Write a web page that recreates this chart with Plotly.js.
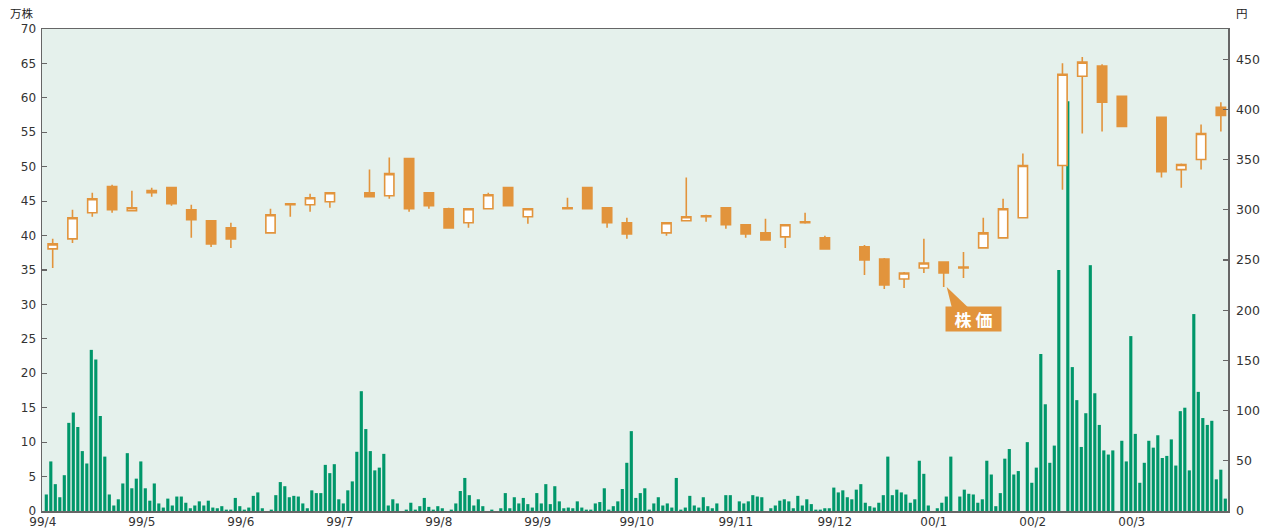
<!DOCTYPE html>
<html><head><meta charset="utf-8">
<script src="https://cdn.plot.ly/plotly-3.0.1.min.js"></script>
<style>html,body{margin:0;padding:0;background:#fff}#chart{width:1268px;height:528px}</style>
</head><body><div id="chart"></div>
<script>
// Month tick labels (x axis)
const monthLabels = ['99/4','99/5','99/6','99/7','99/8','99/9','99/10','99/11','99/12','00/1','00/2','00/3'];

// Daily volume (万株), one value per trading slot, grouped by month
const vol_9904 = [2.4,7.2,3.9,2.0,5.2,12.8,14.3,12.2,8.7,6.9,23.4,22.0,13.8,7.9,2.4,0.8,1.7,4.0,8.4,3.3,4.7];
const vol_9905 = [7.2,3.3,1.5,4.0,1.1,0.5,1.8,0.8,2.1,2.1,1.2,0.4,0.8,1.4,0.8,1.5,0.5,0.4,0.7,0.2,0.2,1.9];
const vol_9906 = [0.7,0.2,0.5,2.2,2.7,0.4,0,0.2,2.3,4.2,3.6,2.0,2.2,2.1,1.1,0.4,3.0,2.6,2.6,6.7,5.5,6.8];
const vol_9907 = [1.7,1.1,3.0,4.3,8.6,17.4,11.9,8.7,5.9,6.3,8.3,0.8,1.7,1.1,0,0.2,1.2,0.2,0.7,1.9,0.6,0.2];
const vol_9908 = [0.7,0.4,0,0.2,1.1,2.9,4.8,2.3,0.8,1.7,0.7,0,0.2,0,0.4,2.6,0.4,2.0,1.1,1.9,1.0,0.5];
const vol_9909 = [2.6,1.1,3.9,1.0,3.6,1.4,0.4,0.5,0.4,1.4,0.5,0.2,0.2,1.1,1.3,3.3,0.2,0.7,1.4,3.2,7.0,11.6];
const vol_9910 = [1.9,2.6,3.3,0.2,1.1,2.0,0.8,1.1,0.5,4.8,0.2,0.5,2.2,0.8,0.5,2.0,0.7,0.4,1.1,0,2.3];
const vol_9911 = [2.3,0,1.4,1.1,1.4,2.3,2.1,2.0,0,0.4,0.8,1.5,1.7,1.4,0.4,2.2,0.8,1.7,1.0,0.2,0.2,0.4];
const vol_9912 = [0.4,3.4,2.7,3.0,2.0,1.7,3.1,3.9,1.2,0.7,0.5,1.2,2.3,7.9,2.3,3.1,2.7,2.4,1.2,1.7,7.3,5.4,0.8];
const vol_0001 = [0,0.4,1.2,2.1,7.9,0,2.1,3.1,2.5,2.4,1.2,1.7,7.3,5.3,0.7,2.6,7.6,9.0,5.3,5.8,0];
const vol_0002 = [10.0,4.1,6.3,22.8,15.5,7.0,9.5,35.0,0,59.5,20.9,16.1,9.3,14.2,35.7,17.1,12.5,8.8,8.2,8.8,0];
const vol_0003 = [10.2,7.2,25.4,11.2,4.1,7.0,10.2,9.2,11.0,7.7,8.0,10.4,6.6,14.5,15.0,5.9,28.6,17.3,13.5,12.5,13.1,4.6,6.0,1.8];

// Weekly candles (円). Slot = week position (5 slots per month)
const candleSlot = [0,1,2,3,4,5,6,7,8,9,11,12,13,14,16,17,18,19,20,21,22,23,24,26,27,28,29,31,32,33,34,35,36,37,38,39,41,42,43,44,45,46,47,48,49,51,52,53,54,56,57,58,59];
const priceOpen  = [261,271,297,323,299,319,322,300,289,282,277,306,305,308,317,314,351,317,301,287,301,322,293,302,322,302,287,277,289,294,302,285,277,273,288,272,263,251,231,242,248,242,262,272,292,344,433,443,413,392,340,350,402];
const priceHigh  = [271,300,317,325,319,322,322,305,289,287,301,306,316,317,340,352,351,317,302,301,317,322,301,312,322,302,292,287,332,295,302,285,291,285,297,274,265,252,238,271,248,258,292,311,356,446,452,445,413,392,346,385,407];
const priceLow   = [242,267,293,297,299,313,304,272,263,262,277,293,298,302,313,311,298,301,281,282,301,304,286,301,301,282,271,274,289,288,281,272,270,262,286,261,235,221,222,237,223,232,262,272,292,320,376,378,383,332,322,340,378];
const priceClose = [266,292,311,300,302,317,306,290,266,271,295,305,312,317,313,336,301,304,282,301,315,304,301,301,301,287,276,287,293,293,285,276,270,285,287,261,250,225,237,247,237,243,277,301,344,435,447,407,383,338,345,376,394];

const ORANGE = '#e2943c';
const GREEN = '#00976a';
const AXIS = '#666666';

const volAll = [].concat(vol_9904, vol_9905, vol_9906, vol_9907, vol_9908, vol_9909,
                         vol_9910, vol_9911, vol_9912, vol_0001, vol_0002, vol_0003);
const volX = volAll.map((_, i) => i);

const traces = [
  {
    type: 'bar', x: volX, y: volAll, xaxis: 'x', yaxis: 'y',
    marker: {color: GREEN, line: {width: 0}}, width: 0.7, hoverinfo: 'skip'
  },
  {
    type: 'candlestick', x: candleSlot.map(k => k + 0.5),
    open: priceOpen, high: priceHigh, low: priceLow, close: priceClose,
    xaxis: 'x2', yaxis: 'y2', whiskerwidth: 0,
    increasing: {line: {color: ORANGE, width: 1.6}, fillcolor: '#ffffff'},
    decreasing: {line: {color: ORANGE, width: 1.6}, fillcolor: ORANGE}
  }
];

// label anchored at the candle of slot 45 (its low)
const calloutIdx = candleSlot.indexOf(45);

const layout = {
  width: 1268, height: 528,
  margin: {l: 42, r: 40, t: 29, b: 17, pad: 0},
  paper_bgcolor: '#ffffff', plot_bgcolor: '#e5f1ec',
  showlegend: false, hovermode: false,
  font: {family: 'DejaVu Sans, sans-serif', size: 12.5, color: '#333333'},
  boxgap: 0.33,
  // volume (daily slots) axis: lines only
  xaxis: {
    range: [-0.956, 262.6], showticklabels: false, ticks: '',
    showline: true, linecolor: AXIS, linewidth: 1.5, mirror: true,
    showgrid: false, zeroline: false, fixedrange: true
  },
  // candle (weekly slots) axis: month labels
  xaxis2: {
    overlaying: 'x', anchor: 'y2', side: 'bottom',
    range: [-0.04, 59.86], tickmode: 'array',
    tickvals: monthLabels.map((_, m) => 5 * m), ticktext: monthLabels,
    ticks: '', showline: false, showgrid: false, zeroline: false,
    tickfont: {size: 12}, ticklabelstandoff: 2, rangeslider: {visible: false}, fixedrange: true
  },
  yaxis: {
    range: [0, 70], dtick: 5, tick0: 0, ticks: 'inside', ticklen: 5, tickcolor: AXIS, tickwidth: 1.2,
    ticklabelstandoff: 2, tickfont: {size: 12},
    showline: true, linecolor: AXIS, linewidth: 1.5, showgrid: false, zeroline: false, fixedrange: true
  },
  yaxis2: {
    overlaying: 'y', side: 'right', anchor: 'x2', range: [0, 480], dtick: 50, tick0: 0,
    ticks: 'inside', ticklen: 5, tickcolor: AXIS, tickwidth: 1.2, ticklabelstandoff: 4,
    showline: true, linecolor: AXIS, linewidth: 1.5, showgrid: false, zeroline: false, fixedrange: true
  },
  annotations: [
    {text: '万株', xref: 'paper', yref: 'paper', x: -0.0169, y: 1.034, showarrow: false,
     xanchor: 'center', yanchor: 'middle', font: {family: 'Noto Sans CJK JP', size: 11.5, color: '#222'}},
    {text: '円', xref: 'paper', yref: 'paper', x: 1.0118, y: 1.034, showarrow: false,
     xanchor: 'center', yanchor: 'middle', font: {family: 'Noto Sans CJK JP', size: 11.5, color: '#222'}},
    {text: '<b>株 価</b>', xref: 'x2', yref: 'y2', x: candleSlot[calloutIdx] + 0.5, y: priceLow[calloutIdx],
     showarrow: false, xanchor: 'center', yanchor: 'middle', xshift: 29.5, yshift: -31.5,
     bgcolor: ORANGE, borderpad: 3, width: 49, height: 18,
     font: {family: 'Noto Sans CJK JP', size: 17, color: '#ffffff'}}
  ],
  shapes: [
    {type: 'path', xref: 'x2', yref: 'y2', xsizemode: 'pixel', ysizemode: 'pixel',
     xanchor: candleSlot[calloutIdx] + 0.5, yanchor: priceLow[calloutIdx],
     path: 'M 3 0 L 8 -20 L 24 -20 Z', fillcolor: ORANGE, line: {width: 0}}
  ]
};

Plotly.newPlot('chart', traces, layout, {displayModeBar: false, staticPlot: true});
</script>
</body></html>
